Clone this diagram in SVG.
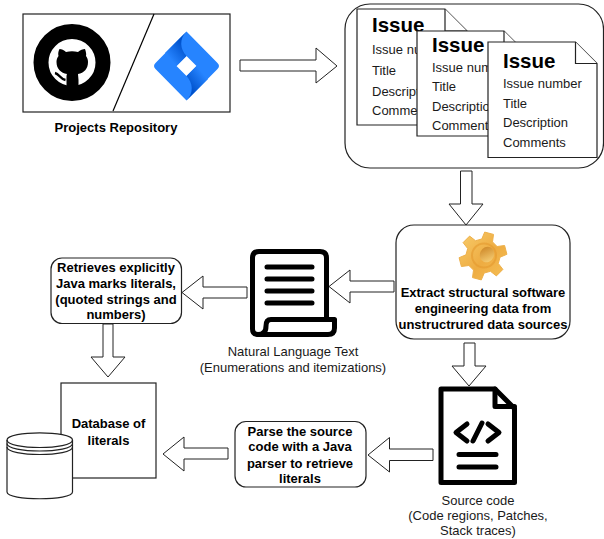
<svg xmlns="http://www.w3.org/2000/svg" width="604" height="539" viewBox="0 0 604 539">
<style>
text{font-family:"Liberation Sans",Arial,sans-serif;font-size:13px;fill:#1a1a1a}
.b{font-weight:bold;fill:#000}
.c{text-anchor:middle}
.h{font-size:20.5px;font-weight:bold;fill:#000}
.box{fill:#fff;stroke:#222;stroke-width:1.2}
.arrow{fill:#fff;stroke:#222;stroke-width:1}
.icon{fill:none;stroke:#000;stroke-width:5;stroke-linecap:round;stroke-linejoin:round}
</style>
<defs>
<linearGradient id="gearFill" x1="0" y1="0" x2="1" y2="1"><stop offset="0" stop-color="#f8cd6c"/><stop offset=".55" stop-color="#eeac42"/><stop offset="1" stop-color="#f6c055"/></linearGradient>
<linearGradient id="gearHole" x1="0" y1="0" x2="1" y2="1"><stop offset="0" stop-color="#c97f1e"/><stop offset="1" stop-color="#fbd77f"/></linearGradient>
<linearGradient id="jiraA" gradientUnits="userSpaceOnUse" x1="183" y1="44" x2="168" y2="56"><stop offset="0" stop-color="#0052cc"/><stop offset="1" stop-color="#2684ff"/></linearGradient>
<linearGradient id="jiraB" gradientUnits="userSpaceOnUse" x1="190" y1="88" x2="205" y2="76"><stop offset="0" stop-color="#0052cc"/><stop offset="1" stop-color="#2684ff"/></linearGradient>
</defs>

<g id="repository">
<rect class="box" x="23" y="14" width="207" height="98"/>
<path d="M154 14L113 111" fill="none" stroke="#000" stroke-width="1.2"/>
<circle cx="72" cy="62.500" r="31" fill="#fff" stroke="#000" stroke-width="15"/>
<path d="M59.500 49C61.500 49 64 50 66 52C70 51 74 51 78 52C80 50 83 49 85 49C86 52 86.500 54 86 56C87.500 58 88 60 88 62C88 69 84 73 78 74C78 76 78.500 78 78.500 80L78.500 88L66.500 88L66.500 78C66.500 76 66.500 75 67 74C61 73 56.500 69 56.500 62C56.500 60 57 58 58.500 56C58 54 58 52 59.500 49Z" fill="#000"/>
<path d="M55 73C59.500 74 60 79 65.500 80" fill="none" stroke="#000" stroke-width="2.400"/>
<path fill="#2684ff" fill-rule="evenodd" d="M186.500 31.500L217.500 63Q220.500 66 217.500 69L186.500 100.500L155.500 69Q152.500 66 155.500 63ZM186.500 56L176.500 66L186.500 76L196.500 66Z"/>
<path fill="url(#jiraA)" d="M186.500 31.500L165 53L176.500 66L186.500 56C180 49 179 39 186.500 31.500Z"/>
<path fill="url(#jiraB)" d="M186.500 100.500L208 79L196.500 66L186.500 76C193 83 194 93 186.500 100.500Z"/>
<text class="b c" x="116" y="132">Projects Repository</text>
</g>

<g id="issues">
<rect class="box" x="345" y="4" width="258.500" height="164" rx="25"/>
<g id="issue-1">
<path class="box" d="M357 9H445L467 31V125H357Z"/>
<path class="box" d="M445 9V31H467" fill="none"/>
<text class="h" x="372" y="32">Issue</text>
<text x="372" y="54">Issue number</text><text x="372" y="75">Title</text><text x="372" y="96">Description</text><text x="372" y="115">Comments</text>
</g>
<g id="issue-2">
<path class="box" d="M417 31H504L526 53V136H417Z"/>
<path class="box" d="M504 31V53H526" fill="none"/>
<text class="h" x="432" y="52">Issue</text>
<text x="432" y="72">Issue number</text><text x="432" y="91">Title</text><text x="432" y="111">Description</text><text x="432" y="130">Comments</text>
</g>
<g id="issue-3">
<path class="box" d="M488 42H575.500L597 63.500V157.500H488Z"/>
<path class="box" d="M575.500 42V63.500H597" fill="none"/>
<text class="h" x="503" y="68">Issue</text>
<text x="503" y="88">Issue number</text><text x="503" y="108">Title</text><text x="503" y="127">Description</text><text x="503" y="147">Comments</text>
</g>
</g>

<g id="extract">
<rect class="box" x="396" y="225" width="174" height="114" rx="18"/>
<path fill="url(#gearFill)" stroke="#eeb04a" stroke-width="1" stroke-linejoin="round" d="M481.800 239L484.700 232.100L493.500 234.400L492.500 241.900L497.100 246.500L504.600 245.500L506.900 254.300L500 257.200L498.300 263.500L502.900 269.400L496.400 275.900L490.500 271.300L484.200 273L481.300 279.900L472.500 277.600L473.500 270.100L468.900 265.500L461.400 266.500L459.100 257.700L466 254.800L467.700 248.500L463.100 242.600L469.600 236.100L475.500 240.700Z"/>
<circle cx="484" cy="255.500" r="12" fill="none" stroke="#e59a2f" stroke-width="2" opacity=".6"/>
<ellipse cx="487" cy="254.500" rx="7" ry="8" transform="rotate(25 487 254.500)" fill="url(#gearHole)"/>
<text class="b c" x="483" y="297">Extract structural software</text>
<text class="b c" x="483" y="313">engineering data from</text>
<text class="b c" x="483" y="329">unstructrured data sources</text>
</g>

<g id="natural-language">
<path class="icon" d="M262 334.500H258Q252.500 334.500 252.500 329V258Q252.500 251.500 259 251.500H320Q326.500 251.500 326.500 258V319"/>
<path class="icon" d="M258 334.500Q266 334.500 266 326Q266 319.500 271 319.500H334.500V328Q334.500 334.500 328 334.500H258"/>
<path class="icon" d="M267 267H312M267 279H312M267 291H312M267 303H312"/>
<text class="c" x="293" y="356">Natural Language Text</text>
<text class="c" x="293" y="372">(Enumerations and itemizations)</text>
</g>

<g id="retrieves">
<rect class="box" x="51" y="258" width="130.500" height="65.500" rx="11"/>
<text class="b c" x="116" y="272">Retrieves explicitly</text>
<text class="b c" x="116" y="288">Java marks literals,</text>
<text class="b c" x="116" y="304">(quoted strings and</text>
<text class="b c" x="116" y="319">numbers)</text>
</g>

<g id="database">
<rect class="box" x="61" y="383" width="95" height="95"/>
<text class="b c" x="108.500" y="428">Database of</text>
<text class="b c" x="108.500" y="445">literals</text>
<path class="box" d="M7 440C7 430.500 72.500 430.500 72.500 440V492C72.500 501 7 501 7 492Z"/>
<path d="M7 440C7 450 72.500 450 72.500 440M7 443.500C7 453.500 72.500 453.500 72.500 443.500M7 447C7 457 72.500 457 72.500 447" fill="none" stroke="#222" stroke-width="1.200"/>
</g>

<g id="parse">
<rect class="box" x="235" y="421.500" width="131" height="65.500" rx="11"/>
<text class="b c" x="300" y="436">Parse the source</text>
<text class="b c" x="300" y="451">code with a Java</text>
<text class="b c" x="300" y="468">parser to retrieve</text>
<text class="b c" x="300" y="483">literals</text>
</g>

<g id="source-code">
<path class="icon" d="M441 389H495L514.500 408.500V482.500H441Z"/>
<path class="icon" d="M495 389V406.500H514.500"/>
<path d="M467 424L456 432.500L467 441M488 424L499 432.500L488 441M482 423L473 441" fill="none" stroke="#000" stroke-width="5" stroke-linecap="round" stroke-linejoin="round"/>
<path class="icon" d="M459 454.500H496M459 467H496"/>
<text class="c" x="478" y="505">Source code</text>
<text class="c" x="478" y="520">(Code regions, Patches,</text>
<text class="c" x="478" y="535">Stack traces)</text>
</g>

<g id="connectors">
<path class="arrow" d="M240 60H316V48L337 66L316 83V71H240Z"/>
<path class="arrow" d="M460.500 171H472V204H483L466 225L449 204H460.500Z"/>
<path class="arrow" d="M464 343H475V366H486L469 386L452 366H464Z"/>
<path class="arrow" d="M394 281V292H350V303L329 286.500L350 270V281Z"/>
<path class="arrow" d="M247 287V298H203V309L182 292.500L203 276V287Z"/>
<path class="arrow" d="M103 324H113V357H125L108 377L91 357H103Z"/>
<path class="arrow" d="M433 449V460.500H389.500V472L368 455L389.500 437.500V449Z"/>
<path class="arrow" d="M228 448V459H184V471L163 454L184 437V448Z"/>
</g>
</svg>
